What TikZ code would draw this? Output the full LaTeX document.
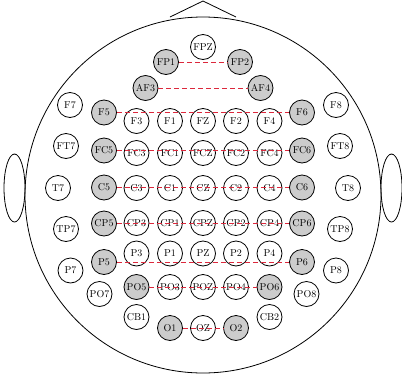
\documentclass[tikz,border=0pt]{standalone}
\usepackage{tikz}
\usetikzlibrary{arrows.meta, positioning}
\definecolor{pairred}{RGB}{220,40,60}

\begin{document}
\begin{tikzpicture}[x=1pt, y=-1pt, line width=0.8pt,
  elec/.style={circle, draw, fill=white, minimum size=25pt, inner sep=0pt, font=\normalsize},
  pick/.style={elec, fill=gray!40},
  pair/.style={draw=pairred, dash pattern=on 5pt off 3pt}]
  \useasboundingbox (0,0) rectangle (402,381);

  % Head, nose and ears
  \draw (203,195) circle[radius=178pt];
  \draw (170,17) -- (203,1) -- (236,17);
  \draw (14.5,188) ellipse[x radius=10.5pt, y radius=34pt];
  \draw (391.5,188) ellipse[x radius=10.5pt, y radius=34pt];

  % Frontal
  \node[elec] (FPZ) at (203,47)  {FPZ};
  \node[pick] (FP1) at (166,62)  {FP1};
  \node[pick] (FP2) at (240,62)  {FP2};
  \node[pick] (AF3) at (145.5,88) {AF3};
  \node[pick] (AF4) at (260.5,88) {AF4};

  \node[elec] (F7) at (70,105)    {F7};
  \node[pick] (F5) at (104,112.5) {F5};
  \node[elec] (F3) at (136.5,121) {F3};
  \node[elec] (F1) at (170,121)   {F1};
  \node[elec] (FZ) at (203,121)   {FZ};
  \node[elec] (F2) at (236,121)   {F2};
  \node[elec] (F4) at (269.5,121) {F4};
  \node[pick] (F6) at (302,112.5) {F6};
  \node[elec] (F8) at (336,105)   {F8};

  % Fronto-central
  \node[elec] (FT7) at (66,146)    {FT7};
  \node[pick] (FC5) at (104,150.5) {FC5};
  \node[elec] (FC3) at (136.5,153) {FC3};
  \node[elec] (FC1) at (170,153)   {FC1};
  \node[elec] (FCZ) at (203,153)   {FCZ};
  \node[elec] (FC2) at (236,153)   {FC2};
  \node[elec] (FC4) at (269.5,153) {FC4};
  \node[pick] (FC6) at (302,150.5) {FC6};
  \node[elec] (FT8) at (340,146)   {FT8};

  % Central
  \node[elec] (T7) at (58,188)    {T7};
  \node[pick] (C5) at (104,187.5) {C5};
  \node[elec] (C3) at (136.5,188) {C3};
  \node[elec] (C1) at (170,188)   {C1};
  \node[elec] (CZ) at (203,188)   {CZ};
  \node[elec] (C2) at (236,188)   {C2};
  \node[elec] (C4) at (269.5,188) {C4};
  \node[pick] (C6) at (302,187.5) {C6};
  \node[elec] (T8) at (348,188)   {T8};

  % Centro-parietal
  \node[elec] (TP7) at (66,229)    {TP7};
  \node[pick] (CP5) at (104,223.5) {CP5};
  \node[elec] (CP3) at (136.5,223) {CP3};
  \node[elec] (CP1) at (170,223)   {CP1};
  \node[elec] (CPZ) at (203,223)   {CPZ};
  \node[elec] (CP2) at (236,223)   {CP2};
  \node[elec] (CP4) at (269.5,223) {CP4};
  \node[pick] (CP6) at (302,223.5) {CP6};
  \node[elec] (TP8) at (340,229)   {TP8};

  % Parietal
  \node[elec] (P7) at (70.5,270.5)  {P7};
  \node[pick] (P5) at (104,262)     {P5};
  \node[elec] (P3) at (136.5,253.5) {P3};
  \node[elec] (P1) at (170,253.5)   {P1};
  \node[elec] (PZ) at (203,253.5)   {PZ};
  \node[elec] (P2) at (236,253.5)   {P2};
  \node[elec] (P4) at (269.5,253.5) {P4};
  \node[pick] (P6) at (302,262)     {P6};
  \node[elec] (P8) at (336,270.5)   {P8};

  % Parieto-occipital
  \node[elec] (PO7) at (99.5,294)   {PO7};
  \node[pick] (PO5) at (136.5,287)  {PO5};
  \node[elec] (PO3) at (170,287)    {PO3};
  \node[elec] (POZ) at (203,287)    {POZ};
  \node[elec] (PO4) at (236,287)    {PO4};
  \node[pick] (PO6) at (269.5,287)  {PO6};
  \node[elec] (PO8) at (306.5,294)  {PO8};

  % Occipital
  \node[elec] (CB1) at (136.5,317) {CB1};
  \node[pick] (O1)  at (170,328)   {O1};
  \node[elec] (OZ)  at (203,328)   {OZ};
  \node[pick] (O2)  at (236,328)   {O2};
  \node[elec] (CB2) at (269.5,317) {CB2};

  % Symmetric pairs
  \draw[pair] (FP1) -- (FP2);
  \draw[pair] (AF3) -- (AF4);
  \draw[pair] (F5) -- (F6);
  \draw[pair] (FC5) -- (FC6);
  \draw[pair] (C5) -- (C6);
  \draw[pair] (CP5) -- (CP6);
  \draw[pair] (P5) -- (P6);
  \draw[pair] (PO5) -- (PO6);
  \draw[pair] (O1) -- (O2);
\end{tikzpicture}
\end{document}
